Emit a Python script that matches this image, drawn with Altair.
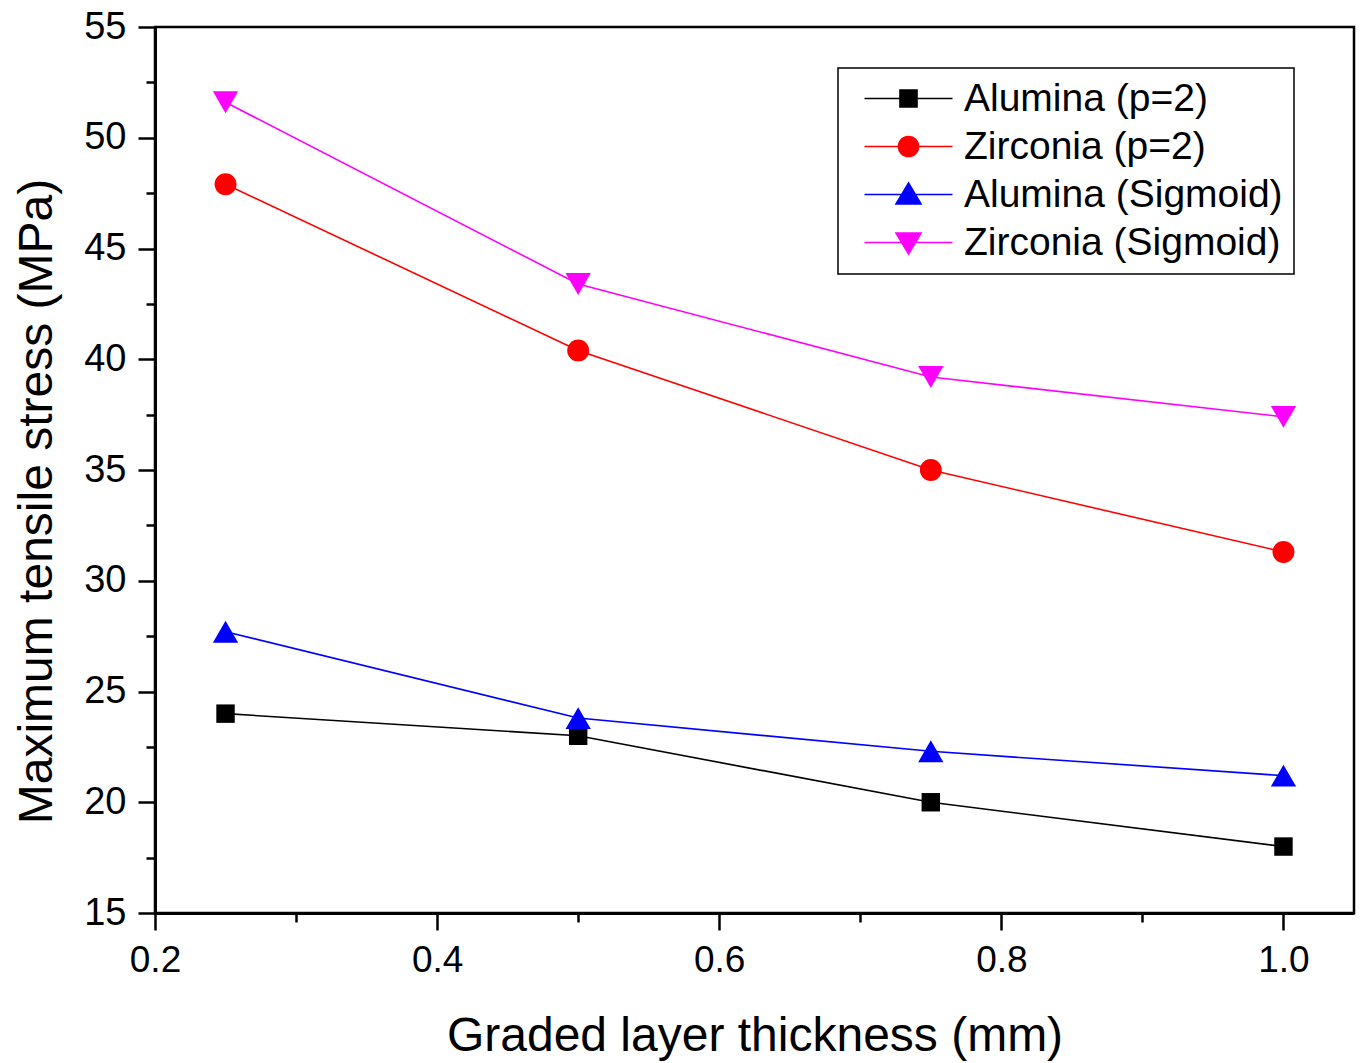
import altair as alt
import pandas as pd

thickness = [0.25, 0.5, 0.75, 1.0]
series_names = ["Alumina (p=2)", "Zirconia (p=2)", "Alumina (Sigmoid)", "Zirconia (Sigmoid)"]
alumina_p2 = [24.0, 23.0, 20.0, 18.0]
zirconia_p2 = [47.9, 40.4, 35.0, 31.3]
alumina_sig = [27.7, 23.8, 22.3, 21.2]
zirconia_sig = [51.6, 43.4, 39.2, 37.4]

x_major = [0.2, 0.4, 0.6, 0.8, 1.0]
x_minor = [0.3, 0.5, 0.7, 0.9]
y_major = [15, 20, 25, 30, 35, 40, 45, 50, 55]
y_minor = [17.5, 22.5, 27.5, 32.5, 37.5, 42.5, 47.5, 52.5]

colors = ["#000000", "#FF0000", "#0000FF", "#FF00FF"]
shapes = ["square", "circle", "triangle-up", "triangle-down"]
marker_sizes = [340, 480, 640, 640]
legend_paths = [
    "M-4.4,0L4.4,0M-0.85,-0.85L0.85,-0.85L0.85,0.85L-0.85,0.85Z",
    "M-4.4,0L4.4,0M-1,0A1,1,0,1,0,1,0A1,1,0,1,0,-1,0Z",
    "M-4.4,0L4.4,0M0,-1.15L1.25,0.95L-1.25,0.95Z",
    "M-4.4,0L4.4,0M0,1.15L1.25,-0.95L-1.25,-0.95Z",
]

rows = []
for name, vals in zip(series_names, [alumina_p2, zirconia_p2, alumina_sig, zirconia_sig]):
    for t, v in zip(thickness, vals):
        rows.append({"series": name, "t": t, "v": v})
df = pd.DataFrame(rows)
legend_df = pd.DataFrame({"series": series_names, "t": [None] * 4, "v": [None] * 4})

FONT = "Liberation Sans"
xscale = alt.Scale(domain=[0.2, 1.05], nice=False, zero=False)
yscale = alt.Scale(domain=[15, 55], nice=False, zero=False)
cscale = alt.Scale(domain=series_names, range=colors)

major_x_axis = alt.Axis(values=x_major, format=".1f", orient="bottom", tickSize=17, tickWidth=2.5,
                        domainWidth=3, domainColor="black", tickColor="black", labelFontSize=37,
                        labelFont=FONT, labelColor="black", labelPadding=12, grid=False,
                        labelFlush=False,
                        title="Graded layer thickness (mm)", titleFont=FONT, titleFontSize=48,
                        titleFontWeight="normal", titleColor="black", titlePadding=34)
major_y_axis = alt.Axis(values=y_major, format="d", orient="left", tickSize=17, tickWidth=2.5,
                        domainWidth=3, domainColor="black", tickColor="black", labelFontSize=38,
                        labelFont=FONT, labelColor="black", labelPadding=12, grid=False,
                        labelFlush=False,
                        title="Maximum tensile stress (MPa)", titleFont=FONT, titleFontSize=48,
                        titleFontWeight="normal", titleColor="black", titlePadding=22, titleY=474)
minor_x_axis = alt.Axis(values=x_minor, orient="bottom", tickSize=9, tickWidth=2.5, tickColor="black",
                        labels=False, domain=False, grid=False, title=None)
minor_y_axis = alt.Axis(values=y_minor, orient="left", tickSize=9, tickWidth=2.5, tickColor="black",
                        labels=False, domain=False, grid=False, title=None)

legend_spec = alt.Legend(
    title=None,
    symbolFillColor=alt.ExprRef("scale('color', datum.value)"),
    symbolStrokeColor=alt.ExprRef("scale('color', datum.value)"),
    symbolStrokeWidth=1.6,
    symbolOpacity=1,
)

base = alt.Chart(df)

lines = base.mark_line(strokeWidth=1.6).encode(
    x=alt.X("t:Q", scale=xscale, axis=major_x_axis),
    y=alt.Y("v:Q", scale=yscale, axis=major_y_axis),
    color=alt.Color("series:N", scale=cscale),
    detail="series:N",
)

minor_axes = base.mark_point(opacity=0).encode(
    x=alt.X("t:Q", scale=xscale, axis=minor_x_axis),
    y=alt.Y("v:Q", scale=yscale, axis=minor_y_axis),
)

point_layers = []
for name, shp, sz in zip(series_names, shapes, marker_sizes):
    point_layers.append(
        base.transform_filter(alt.datum.series == name).mark_point(
            filled=True, opacity=1, shape=shp, size=sz
        ).encode(
            x=alt.X("t:Q", scale=xscale, axis=None),
            y=alt.Y("v:Q", scale=yscale, axis=None),
            color=alt.Color("series:N", scale=cscale),
        )
    )

legend_layer = alt.Chart(legend_df).mark_point(filled=True, opacity=1).encode(
    x=alt.X("t:Q", scale=xscale, axis=None),
    y=alt.Y("v:Q", scale=yscale, axis=None),
    color=alt.Color("series:N", scale=cscale, legend=legend_spec),
    shape=alt.Shape("series:N", scale=alt.Scale(domain=series_names, range=legend_paths),
                    legend=legend_spec),
)

chart = alt.layer(legend_layer, lines, minor_axes, *point_layers).resolve_axis(
    x="independent", y="independent"
).properties(
    width=1199, height=886,
    autosize=alt.AutoSizeParams(type="none"),
    padding={"left": 155, "top": 27, "right": 7, "bottom": 150},
    background="white",
).configure_view(
    stroke="black", strokeWidth=2.5
).configure_legend(
    orient="none", legendX=683, legendY=41,
    strokeColor="black", strokeWidth=1.5, fillColor="white",
    padding=11, labelFont=FONT, labelFontSize=39, labelColor="black",
    symbolSize=400, labelOffset=36, rowPadding=8,
    symbolOffset=40, labelLimit=0,
)

chart.save("out.html", embed_options={"renderer": "svg", "actions": False})
